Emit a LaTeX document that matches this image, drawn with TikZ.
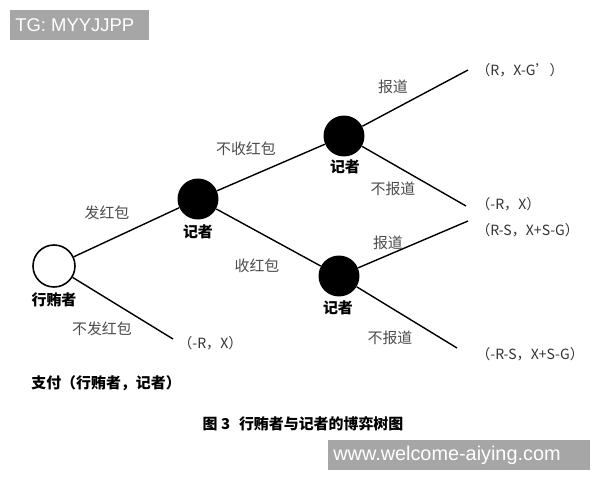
\documentclass[tikz,border=0pt]{standalone}
\usepackage{fontspec}
\newfontfamily\cjk{Noto Sans CJK SC}
\newfontfamily\wm{Liberation Sans}
\begin{document}
\begin{tikzpicture}[x=0.02cm,y=-0.02cm,
  every node/.style={inner sep=0pt},
  chance/.style={circle,draw=black,line width=0.9pt,minimum size=0.84cm,fill=white},
  player/.style={circle,fill=black,minimum size=0.82cm},
  edge/.style={line width=0.8pt,black},
  elab/.style={font=\cjk\fontsize{8.5}{10}\selectfont,text=black!70},
  nlab/.style={font=\cjk\bfseries\fontsize{8.5}{10}\selectfont,text=black},
  pay/.style={font=\cjk\fontsize{8}{9}\selectfont,text=black!80},
  wmbox/.style={fill=black!35,text=white}]
\useasboundingbox (0,0) rectangle (600,480);
\fill[white] (0,0) rectangle (600,480);
% watermarks
\node[wmbox,minimum width=2.78cm,minimum height=0.6cm,anchor=north west] (tg) at (10,10) {};
\node[text=white,font=\wm\fontsize{10.5}{12}\selectfont,anchor=west] (tgt) at (15,25) {TG: MYYJJPP};
\node[wmbox,minimum width=5.24cm,minimum height=0.6cm,anchor=north west] (www) at (328,440) {};
\node[text=white,font=\wm\fontsize{11.3}{13}\selectfont,anchor=west] (wwwt) at (333,455) {www.welcome-aiying.com};
% nodes
\node[chance] (r) at (54,266) {};
\node[player] (a) at (198,199) {};
\node[player] (b) at (344,136) {};
\node[player] (c) at (339,276) {};
\coordinate (l1) at (468,70);
\coordinate (l2) at (466,206);
\coordinate (l3) at (468,221);
\coordinate (l4) at (457,348);
\coordinate (l5) at (173,339);
% edges
\draw[edge] (r) -- (a);
\draw[edge] (r) -- (l5);
\draw[edge] (a) -- (b);
\draw[edge] (a) -- (c);
\draw[edge] (b) -- (l1);
\draw[edge] (b) -- (l2);
\draw[edge] (c) -- (l3);
\draw[edge] (c) -- (l4);
% node labels
\node[nlab] (rl) at (54,300) {行贿者};
\node[nlab] (al) at (198,232) {记者};
\node[nlab] (bl) at (345,167) {记者};
\node[nlab] (cl) at (338,308) {记者};
% edge labels
\node[elab] (e1) at (107,213) {发红包};
\node[elab] (e2) at (246,149) {不收红包};
\node[elab] (e3) at (257,266) {收红包};
\node[elab] (e4) at (102,329) {不发红包};
\node[elab] (e5) at (393,87) {报道};
\node[elab] (e6) at (393,189) {不报道};
\node[elab] (e7) at (388,243) {报道};
\node[elab] (e8) at (390,338) {不报道};
% payoffs
\node[pay,anchor=west] (p1) at (476,70) {（R，X-G’）};
\node[pay,anchor=west] (p2) at (476,204) {（-R，X）};
\node[pay,anchor=west] (p3) at (476,230) {（R-S，X+S-G）};
\node[pay,anchor=west] (p4) at (476,354) {（-R-S，X+S-G）};
\node[pay,anchor=west] (p5) at (178,343) {（-R，X）};
% captions
\node[nlab,anchor=west] (pf) at (31,383) {支付（行贿者，记者）};
\node[nlab] (cap) at (303,424) {图 3\hspace{0.6em}行贿者与记者的博弈树图};
\end{tikzpicture}
\end{document}
